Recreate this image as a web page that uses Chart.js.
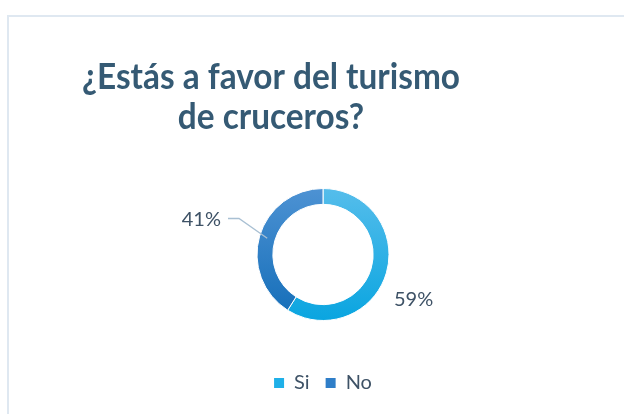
<!DOCTYPE html>
<html>
<head>
<meta charset="utf-8">
<script src="https://cdn.jsdelivr.net/npm/chart.js@4/dist/chart.umd.min.js"></script>
<style>
  html, body { margin: 0; padding: 0; background: #ffffff; }
  #wrap { position: relative; width: 624px; height: 414px; overflow: hidden; }
  #frame { position: absolute; left: 7px; top: 15px; width: 640px; height: 420px;
           border-left: 2px solid #dfe8f1; border-top: 2px solid #dfe8f1; box-sizing: border-box; }
  canvas { position: absolute; left: 0; top: 0; }
</style>
</head>
<body>
<div id="wrap">
  <div id="frame"></div>
  <canvas id="c" width="624" height="414"></canvas>
</div>
<script>
// ---- data ----
const titleLines = ['¿Estás a favor del turismo', 'de cruceros?'];
const categories = ['Si', 'No'];
const values = [59, 41];
const valueLabels = ['59%', '41%'];

// ---- styles ----
const gradStops = [['#55bdeb', '#0aa5e0'], ['#4d92d3', '#136db8']];
const legendColors = ['#1fb0e8', '#2f7ec8'];
const labelColor = '#3e5266';
const titleColor = '#355a74';

const titlePlugin = {
  id: 'customTitle',
  afterDraw(chart) {
    const ctx = chart.ctx;
    ctx.save();
    ctx.fillStyle = titleColor;
    ctx.font = 'bold 36px Lato';
    ctx.textAlign = 'center';
    ctx.textBaseline = 'alphabetic';
    const w = ctx.measureText(titleLines[0]).width;
    const s = Math.min(1, 378 / w);
    const cx = 271;
    const baselines = [89, 129];
    titleLines.forEach((line, i) => {
      ctx.save();
      ctx.translate(cx, baselines[i]);
      ctx.scale(s, 1);
      ctx.fillText(line, 0, 0);
      ctx.restore();
    });
    ctx.restore();
  }
};

const labelPlugin = {
  id: 'sliceLabels',
  afterDatasetsDraw(chart) {
    const ctx = chart.ctx;
    const meta = chart.getDatasetMeta(0);
    ctx.save();
    ctx.font = '20px Lato';
    ctx.fillStyle = labelColor;
    ctx.textBaseline = 'middle';
    meta.data.forEach((arc, i) => {
      const p = arc.getProps(['x', 'y', 'startAngle', 'endAngle', 'innerRadius', 'outerRadius'], true);
      const mid = (p.startAngle + p.endAngle) / 2;
      if (i === 1) {
        const r = (p.innerRadius + p.outerRadius) / 2;
        const ex = p.x + Math.cos(mid) * r;
        const ey = p.y + Math.sin(mid) * r;
        ctx.strokeStyle = '#a9c0d3';
        ctx.lineWidth = 1.3;
        ctx.beginPath();
        ctx.moveTo(ex, ey);
        ctx.lineTo(p.x - 84, p.y - 36);
        ctx.lineTo(p.x - 95, p.y - 36);
        ctx.stroke();
        ctx.textAlign = 'right';
        ctx.fillText(valueLabels[i], p.x - 102, p.y - 35);
      } else {
        ctx.textAlign = 'left';
        ctx.fillText(valueLabels[i], p.x + 71, p.y + 45);
      }
    });
    ctx.restore();
  }
};

const ctx = document.getElementById('c').getContext('2d');
new Chart(ctx, {
  type: 'doughnut',
  data: {
    labels: categories,
    datasets: [{
      data: values,
      radius: 66,
      cutout: '76%',
      borderWidth: 1,
      borderColor: '#ffffff',
      backgroundColor: (c) => {
        const chart = c.chart;
        const area = chart.chartArea;
        if (!area) return gradStops[c.dataIndex][1];
        const cy = (area.top + area.bottom) / 2;
        const g = chart.ctx.createLinearGradient(0, cy - 66, 0, cy + 66);
        g.addColorStop(0, gradStops[c.dataIndex][0]);
        g.addColorStop(1, gradStops[c.dataIndex][1]);
        return g;
      }
    }]
  },
  options: {
    responsive: false,
    devicePixelRatio: 1,
    animation: false,
    cutout: '76%',
    layout: { padding: { left: 40, right: 18, top: 152, bottom: 11 } },
    plugins: {
      title: { display: false },
      tooltip: { enabled: false },
      legend: {
        display: true,
        position: 'bottom',
        labels: {
          boxWidth: 10,
          boxHeight: 10,
          padding: 16,
          color: labelColor,
          font: { family: 'Lato', size: 20 },
          generateLabels: (chart) => {
            const items = Chart.overrides.doughnut.plugins.legend.labels.generateLabels(chart);
            items.forEach((it, i) => {
              it.fillStyle = legendColors[i];
              it.strokeStyle = legendColors[i];
              it.lineWidth = 0;
            });
            return items;
          }
        }
      }
    }
  },
  plugins: [titlePlugin, labelPlugin]
});
</script>
</body>
</html>
